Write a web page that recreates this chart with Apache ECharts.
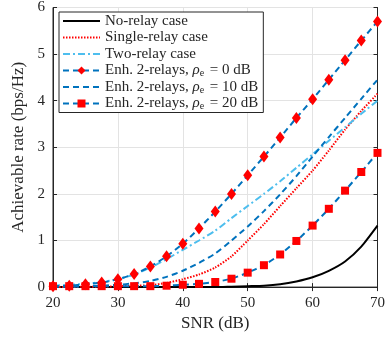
<!DOCTYPE html>
<html><head><meta charset="utf-8">
<script src="https://cdn.jsdelivr.net/npm/echarts@6/dist/echarts.min.js"></script>
<style>html,body{margin:0;padding:0;background:#fff}#c{width:388px;height:337px}</style>
</head><body><div id="c"></div>
<script>
var snr = [20,22.5,25,27.5,30,32.5,35,37.5,40,42.5,45,47.5,50,52.5,55,57.5,60,62.5,65,67.5,70];
var noRelay   = [0,0,0,0,0,0,0,0,0,0,0,0.01,0.02,0.03,0.06,0.12,0.21,0.35,0.55,0.87,1.32];
var single    = [0,0,0.01,0.01,0.02,0.03,0.04,0.09,0.17,0.27,0.42,0.66,1.0,1.35,1.74,2.12,2.5,2.93,3.38,3.78,4.15];
var tworelay  = [0.03,0.05,0.07,0.11,0.17,0.27,0.42,0.6,0.8,1.0,1.21,1.48,1.74,2.0,2.27,2.56,2.85,3.14,3.43,3.72,4.0];
var enh0      = [0.02,0.03,0.06,0.10,0.17,0.28,0.44,0.66,0.93,1.26,1.62,2.0,2.4,2.8,3.21,3.63,4.03,4.45,4.87,5.29,5.70];
var enh10     = [0.01,0.01,0.02,0.03,0.05,0.08,0.13,0.22,0.35,0.52,0.72,1.0,1.3,1.63,1.99,2.38,2.8,3.22,3.63,4.04,4.45];
var enh20     = [0.02,0.02,0.02,0.02,0.02,0.02,0.02,0.03,0.05,0.07,0.11,0.18,0.31,0.47,0.70,0.99,1.32,1.68,2.07,2.47,2.88];
var names = ['No-relay case','Single-relay case','Two-relay case','Enh. 2-relays, ρe = 0 dB','Enh. 2-relays, ρe = 10 dB','Enh. 2-relays, ρe = 20 dB'];
var xTicks = [20,70,10];
var yTicks = [0,6,1];

function pairs(v){ return snr.map(function(x,i){ return [x, v[i]]; }); }
var FONT = 'Liberation Serif';
var chart = echarts.init(document.getElementById('c'));
function ser(name, data, color, type, width, symbol, symSize){
  return {name:name, type:'line', data:pairs(data), smooth:0.2, showSymbol: !!symbol,
    symbol: symbol || 'none', symbolSize: symSize || 0,
    itemStyle:{color:'#ff0000', borderWidth:0},
    lineStyle:{color:color, type:type, width:width},
    color: color, animation:false, z: symbol ? 5 : 3};
}
var axisCommon = {
  axisLine:{show:true, lineStyle:{color:'#262626', width:1}},
  axisTick:{show:true, inside:true, length:4, lineStyle:{color:'#262626'}}
};
var legendData = names.map(function(n, i){
  var hasSym = (i === 3 || i === 5);
  return hasSym ? {name:n} : {name:n, itemStyle:{opacity:0}};
});
chart.setOption({
  animation:false,
  grid:{left:53, right:10, top:6, bottom:46, show:true, borderColor:'#262626', borderWidth:1},
  xAxis:[Object.assign({type:'value', min:xTicks[0], max:xTicks[1], interval:xTicks[2],
      name:'SNR (dB)', nameLocation:'middle', nameGap:27,
      nameTextStyle:{fontFamily:FONT, fontSize:17, color:'#262626'},
      splitLine:{show:true, lineStyle:{color:'#e3e3e3', width:1}},
      axisLabel:{color:'#262626', fontFamily:FONT, fontSize:15, margin:8}}, axisCommon),
    {type:'value', position:'top', min:xTicks[0], max:xTicks[1], interval:xTicks[2],
      axisLine:{show:true, lineStyle:{color:'#262626'}}, axisTick:{show:true, inside:true, length:4, lineStyle:{color:'#262626'}},
      axisLabel:{show:false}, splitLine:{show:false}}],
  yAxis:[Object.assign({type:'value', min:yTicks[0], max:yTicks[1], interval:yTicks[2],
      name:'Achievable rate (bps/Hz)', nameLocation:'middle', nameGap:24,
      nameTextStyle:{fontFamily:FONT, fontSize:17, color:'#262626'},
      splitLine:{show:true, lineStyle:{color:'#e3e3e3', width:1}},
      axisLabel:{color:'#262626', fontFamily:FONT, fontSize:15, margin:8}}, axisCommon),
    {type:'value', position:'right', min:yTicks[0], max:yTicks[1], interval:yTicks[2],
      axisLine:{show:true, lineStyle:{color:'#262626'}}, axisTick:{show:true, inside:true, length:4, lineStyle:{color:'#262626'}},
      axisLabel:{show:false}, splitLine:{show:false}}],
  legend:{left:59, top:12, orient:'vertical', itemWidth:37, itemHeight:10, itemGap:0.5,
    backgroundColor:'#fff', borderColor:'#262626', borderWidth:1, borderRadius:0, padding:[1,5,1,3],
    data:legendData,
    textStyle:{fontFamily:FONT, fontSize:15, lineHeight:16, color:'#262626',
      rich:{i:{fontFamily:FONT, fontSize:15, lineHeight:16, fontStyle:'italic', color:'#262626'},
            s:{fontFamily:FONT, fontSize:10, lineHeight:16, color:'#262626', verticalAlign:'bottom', padding:[6,2,0,0]}}},
    formatter:function(n){
      var m = n.match(/^(.*)ρe(.*)$/);
      if(m) return m[1] + '{i|ρ}{s|e}' + m[2];
      return n;
    }},
  series:[
    ser(names[0], noRelay, '#000000', 'solid', 2),
    ser(names[1], single, '#ff0000', [1.5,1.5], 2),
    ser(names[2], tworelay, '#4DBEEE', [7,3,2,3], 2),
    ser(names[3], enh0, '#0072BD', [6,4], 2, 'diamond', [9,12]),
    ser(names[4], enh10, '#0072BD', [6,4], 2),
    ser(names[5], enh20, '#0072BD', [6,4], 2, 'rect', [8,8])
  ]
});
</script></body></html>
